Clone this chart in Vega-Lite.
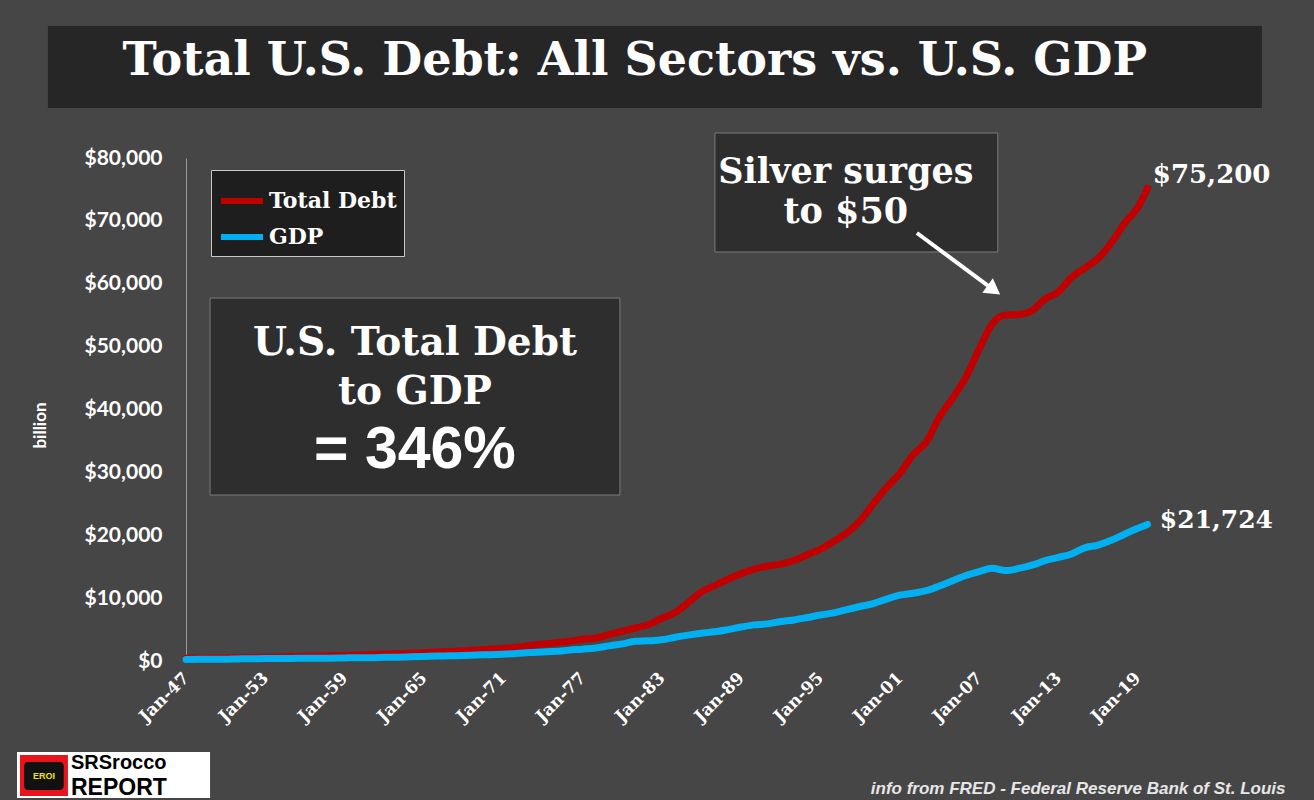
{
  "$schema": "https://vega.github.io/schema/vega-lite/v6.json",
  "width": 966,
  "height": 503,
  "autosize": "none",
  "padding": {"left": 186, "top": 158, "right": 162, "bottom": 139},
  "background": "#464646",
  "datasets": {
    "series": [
      {"date": "1947-01-01", "series": "Total Debt", "value": 420},
      {"date": "1948-01-01", "series": "Total Debt", "value": 440},
      {"date": "1949-01-01", "series": "Total Debt", "value": 460},
      {"date": "1950-01-01", "series": "Total Debt", "value": 490},
      {"date": "1951-01-01", "series": "Total Debt", "value": 530},
      {"date": "1952-01-01", "series": "Total Debt", "value": 570},
      {"date": "1953-01-01", "series": "Total Debt", "value": 610},
      {"date": "1954-01-01", "series": "Total Debt", "value": 650},
      {"date": "1955-01-01", "series": "Total Debt", "value": 700},
      {"date": "1956-01-01", "series": "Total Debt", "value": 750},
      {"date": "1957-01-01", "series": "Total Debt", "value": 790},
      {"date": "1958-01-01", "series": "Total Debt", "value": 830},
      {"date": "1959-01-01", "series": "Total Debt", "value": 890},
      {"date": "1960-01-01", "series": "Total Debt", "value": 950},
      {"date": "1961-01-01", "series": "Total Debt", "value": 1000},
      {"date": "1962-01-01", "series": "Total Debt", "value": 1070},
      {"date": "1963-01-01", "series": "Total Debt", "value": 1150},
      {"date": "1964-01-01", "series": "Total Debt", "value": 1240},
      {"date": "1965-01-01", "series": "Total Debt", "value": 1330},
      {"date": "1966-01-01", "series": "Total Debt", "value": 1430},
      {"date": "1967-01-01", "series": "Total Debt", "value": 1520},
      {"date": "1968-01-01", "series": "Total Debt", "value": 1640},
      {"date": "1969-01-01", "series": "Total Debt", "value": 1770},
      {"date": "1970-01-01", "series": "Total Debt", "value": 1880},
      {"date": "1971-01-01", "series": "Total Debt", "value": 2000},
      {"date": "1972-01-01", "series": "Total Debt", "value": 2200},
      {"date": "1973-01-01", "series": "Total Debt", "value": 2450},
      {"date": "1974-01-01", "series": "Total Debt", "value": 2700},
      {"date": "1975-01-01", "series": "Total Debt", "value": 2900},
      {"date": "1976-01-01", "series": "Total Debt", "value": 3150},
      {"date": "1977-01-01", "series": "Total Debt", "value": 3450},
      {"date": "1978-01-01", "series": "Total Debt", "value": 3650},
      {"date": "1979-01-01", "series": "Total Debt", "value": 4200},
      {"date": "1980-01-01", "series": "Total Debt", "value": 4750},
      {"date": "1981-01-01", "series": "Total Debt", "value": 5250},
      {"date": "1982-01-01", "series": "Total Debt", "value": 5800},
      {"date": "1983-01-01", "series": "Total Debt", "value": 6800},
      {"date": "1984-01-01", "series": "Total Debt", "value": 7700},
      {"date": "1985-01-01", "series": "Total Debt", "value": 9300},
      {"date": "1986-01-01", "series": "Total Debt", "value": 11000},
      {"date": "1987-01-01", "series": "Total Debt", "value": 12000},
      {"date": "1988-01-01", "series": "Total Debt", "value": 13000},
      {"date": "1989-01-01", "series": "Total Debt", "value": 13900},
      {"date": "1990-01-01", "series": "Total Debt", "value": 14600},
      {"date": "1991-01-01", "series": "Total Debt", "value": 15100},
      {"date": "1992-01-01", "series": "Total Debt", "value": 15400},
      {"date": "1993-01-01", "series": "Total Debt", "value": 16000},
      {"date": "1994-01-01", "series": "Total Debt", "value": 16900},
      {"date": "1995-01-01", "series": "Total Debt", "value": 17800},
      {"date": "1996-01-01", "series": "Total Debt", "value": 19000},
      {"date": "1997-01-01", "series": "Total Debt", "value": 20400},
      {"date": "1998-01-01", "series": "Total Debt", "value": 22300},
      {"date": "1999-01-01", "series": "Total Debt", "value": 25000},
      {"date": "2000-01-01", "series": "Total Debt", "value": 27600},
      {"date": "2001-01-01", "series": "Total Debt", "value": 29800},
      {"date": "2002-01-01", "series": "Total Debt", "value": 32800},
      {"date": "2003-01-01", "series": "Total Debt", "value": 34800},
      {"date": "2004-01-01", "series": "Total Debt", "value": 38800},
      {"date": "2005-01-01", "series": "Total Debt", "value": 41800},
      {"date": "2006-01-01", "series": "Total Debt", "value": 45100},
      {"date": "2007-01-01", "series": "Total Debt", "value": 49600},
      {"date": "2008-01-01", "series": "Total Debt", "value": 53600},
      {"date": "2008-10-01", "series": "Total Debt", "value": 54900},
      {"date": "2009-01-01", "series": "Total Debt", "value": 55000},
      {"date": "2010-01-01", "series": "Total Debt", "value": 55100},
      {"date": "2011-01-01", "series": "Total Debt", "value": 55700},
      {"date": "2012-01-01", "series": "Total Debt", "value": 57600},
      {"date": "2013-01-01", "series": "Total Debt", "value": 58700},
      {"date": "2014-01-01", "series": "Total Debt", "value": 61000},
      {"date": "2015-01-01", "series": "Total Debt", "value": 62500},
      {"date": "2016-01-01", "series": "Total Debt", "value": 64000},
      {"date": "2017-01-01", "series": "Total Debt", "value": 66500},
      {"date": "2018-01-01", "series": "Total Debt", "value": 69600},
      {"date": "2019-01-01", "series": "Total Debt", "value": 72100},
      {"date": "2019-10-01", "series": "Total Debt", "value": 75200},
      {"date": "1947-01-01", "series": "GDP", "value": 243},
      {"date": "1948-01-01", "series": "GDP", "value": 260},
      {"date": "1949-01-01", "series": "GDP", "value": 275},
      {"date": "1950-01-01", "series": "GDP", "value": 281},
      {"date": "1951-01-01", "series": "GDP", "value": 336},
      {"date": "1952-01-01", "series": "GDP", "value": 359},
      {"date": "1953-01-01", "series": "GDP", "value": 382},
      {"date": "1954-01-01", "series": "GDP", "value": 386},
      {"date": "1955-01-01", "series": "GDP", "value": 402},
      {"date": "1956-01-01", "series": "GDP", "value": 430},
      {"date": "1957-01-01", "series": "GDP", "value": 453},
      {"date": "1958-01-01", "series": "GDP", "value": 451},
      {"date": "1959-01-01", "series": "GDP", "value": 495},
      {"date": "1960-01-01", "series": "GDP", "value": 534},
      {"date": "1961-01-01", "series": "GDP", "value": 530},
      {"date": "1962-01-01", "series": "GDP", "value": 586},
      {"date": "1963-01-01", "series": "GDP", "value": 612},
      {"date": "1964-01-01", "series": "GDP", "value": 659},
      {"date": "1965-01-01", "series": "GDP", "value": 709},
      {"date": "1966-01-01", "series": "GDP", "value": 781},
      {"date": "1967-01-01", "series": "GDP", "value": 816},
      {"date": "1968-01-01", "series": "GDP", "value": 868},
      {"date": "1969-01-01", "series": "GDP", "value": 948},
      {"date": "1970-01-01", "series": "GDP", "value": 1012},
      {"date": "1971-01-01", "series": "GDP", "value": 1089},
      {"date": "1972-01-01", "series": "GDP", "value": 1191},
      {"date": "1973-01-01", "series": "GDP", "value": 1336},
      {"date": "1974-01-01", "series": "GDP", "value": 1432},
      {"date": "1975-01-01", "series": "GDP", "value": 1533},
      {"date": "1976-01-01", "series": "GDP", "value": 1729},
      {"date": "1977-01-01", "series": "GDP", "value": 1886},
      {"date": "1978-01-01", "series": "GDP", "value": 2059},
      {"date": "1979-01-01", "series": "GDP", "value": 2410},
      {"date": "1980-01-01", "series": "GDP", "value": 2726},
      {"date": "1981-01-01", "series": "GDP", "value": 3125},
      {"date": "1982-01-01", "series": "GDP", "value": 3207},
      {"date": "1983-01-01", "series": "GDP", "value": 3366},
      {"date": "1984-01-01", "series": "GDP", "value": 3770},
      {"date": "1985-01-01", "series": "GDP", "value": 4119},
      {"date": "1986-01-01", "series": "GDP", "value": 4416},
      {"date": "1987-01-01", "series": "GDP", "value": 4638},
      {"date": "1988-01-01", "series": "GDP", "value": 4997},
      {"date": "1989-01-01", "series": "GDP", "value": 5402},
      {"date": "1990-01-01", "series": "GDP", "value": 5748},
      {"date": "1991-01-01", "series": "GDP", "value": 5901},
      {"date": "1992-01-01", "series": "GDP", "value": 6271},
      {"date": "1993-01-01", "series": "GDP", "value": 6527},
      {"date": "1994-01-01", "series": "GDP", "value": 6911},
      {"date": "1995-01-01", "series": "GDP", "value": 7324},
      {"date": "1996-01-01", "series": "GDP", "value": 7647},
      {"date": "1997-01-01", "series": "GDP", "value": 8178},
      {"date": "1998-01-01", "series": "GDP", "value": 8665},
      {"date": "1999-01-01", "series": "GDP", "value": 9125},
      {"date": "2000-01-01", "series": "GDP", "value": 9849},
      {"date": "2001-01-01", "series": "GDP", "value": 10470},
      {"date": "2002-01-01", "series": "GDP", "value": 10783},
      {"date": "2003-01-01", "series": "GDP", "value": 11174},
      {"date": "2004-01-01", "series": "GDP", "value": 11923},
      {"date": "2005-01-01", "series": "GDP", "value": 12767},
      {"date": "2006-01-01", "series": "GDP", "value": 13599},
      {"date": "2007-01-01", "series": "GDP", "value": 14216},
      {"date": "2008-01-01", "series": "GDP", "value": 14752},
      {"date": "2009-01-01", "series": "GDP", "value": 14381},
      {"date": "2010-01-01", "series": "GDP", "value": 14722},
      {"date": "2011-01-01", "series": "GDP", "value": 15238},
      {"date": "2012-01-01", "series": "GDP", "value": 15973},
      {"date": "2013-01-01", "series": "GDP", "value": 16475},
      {"date": "2014-01-01", "series": "GDP", "value": 17031},
      {"date": "2015-01-01", "series": "GDP", "value": 17992},
      {"date": "2016-01-01", "series": "GDP", "value": 18436},
      {"date": "2017-01-01", "series": "GDP", "value": 19190},
      {"date": "2018-01-01", "series": "GDP", "value": 20164},
      {"date": "2019-01-01", "series": "GDP", "value": 21099},
      {"date": "2019-10-01", "series": "GDP", "value": 21724}
    ]
  },
  "layer": [
    {
      "data": {"values": [{}]},
      "mark": {"type": "rect", "fill": "#161616", "opacity": 0.65},
      "encoding": {
        "x": {"datum": {"year": 1936, "month": 7, "date": 22, "utc": true}, "type": "temporal"},
        "x2": {"datum": {"year": 2028, "month": 5, "date": 26, "utc": true}},
        "y": {"datum": 100990, "type": "quantitative"},
        "y2": {"datum": 87950}
      }
    },
    {
      "data": {"values": [{}]},
      "mark": {"type": "text", "text": "Total U.S. Debt: All Sectors vs. U.S. GDP", "font": "DejaVu Serif", "fontSize": 46, "fontWeight": "bold", "color": "white", "align": "center", "baseline": "middle"},
      "encoding": {
        "x": {"datum": {"year": 1980, "month": 12, "date": 15, "utc": true}, "type": "temporal"},
        "y": {"datum": 95430, "type": "quantitative"}
      }
    },
    {
      "data": {"values": [{}]},
      "mark": {"type": "rect", "fill": "#262626", "opacity": 0.75, "stroke": "#8c8c8c", "strokeWidth": 1},
      "encoding": {
        "x": {"datum": {"year": 1948, "month": 10, "date": 27, "utc": true}, "type": "temporal"},
        "x2": {"datum": {"year": 1979, "month": 10, "date": 31, "utc": true}},
        "y": {"datum": 57730, "type": "quantitative"},
        "y2": {"datum": 26400}
      }
    },
    {
      "data": {"values": [{}]},
      "mark": {"type": "rect", "fill": "#262626", "opacity": 0.75, "stroke": "#8c8c8c", "strokeWidth": 1},
      "encoding": {
        "x": {"datum": {"year": 1987, "month": 1, "date": 8, "utc": true}, "type": "temporal"},
        "x2": {"datum": {"year": 2008, "month": 6, "date": 2, "utc": true}},
        "y": {"datum": 83980, "type": "quantitative"},
        "y2": {"datum": 65050}
      }
    },
    {
      "transform": [{"filter": "datum.series == 'Total Debt'"}],
      "data": {"name": "series"},
      "mark": {"type": "line", "strokeWidth": 7, "interpolate": "monotone", "strokeCap": "round"},
      "encoding": {
        "x": {
          "field": "date",
          "type": "temporal",
          "scale": {
            "type": "utc",
            "domain": [
              {"year": 1947, "month": 1, "date": 1, "utc": true},
              {"year": 2020, "month": 2, "date": 1, "utc": true}
            ]
          },
          "axis": {
            "values": [
              {"year": 1947, "month": 1, "date": 1, "utc": true},
              {"year": 1953, "month": 1, "date": 1, "utc": true},
              {"year": 1959, "month": 1, "date": 1, "utc": true},
              {"year": 1965, "month": 1, "date": 1, "utc": true},
              {"year": 1971, "month": 1, "date": 1, "utc": true},
              {"year": 1977, "month": 1, "date": 1, "utc": true},
              {"year": 1983, "month": 1, "date": 1, "utc": true},
              {"year": 1989, "month": 1, "date": 1, "utc": true},
              {"year": 1995, "month": 1, "date": 1, "utc": true},
              {"year": 2001, "month": 1, "date": 1, "utc": true},
              {"year": 2007, "month": 1, "date": 1, "utc": true},
              {"year": 2013, "month": 1, "date": 1, "utc": true},
              {"year": 2019, "month": 1, "date": 1, "utc": true}
            ],
            "format": "%b-%y",
            "labelAngle": -45,
            "labelAlign": "right",
            "labelBaseline": "middle",
            "labelFont": "DejaVu Serif",
            "labelFontSize": 17,
            "labelFontWeight": "bold",
            "labelColor": "white",
            "labelPadding": 14,
            "labelOverlap": false,
            "labelFlush": false,
            "ticks": false,
            "domain": false,
            "grid": false,
            "title": "info from FRED - Federal Reserve Bank of St. Louis",
            "titleX": 1099,
            "titleY": 127,
            "titleAlign": "right",
            "titleBaseline": "middle",
            "titleFont": "Liberation Sans",
            "titleFontStyle": "italic",
            "titleFontWeight": "bold",
            "titleFontSize": 17,
            "titleColor": "#e6e6e6"
          }
        },
        "y": {
          "field": "value",
          "type": "quantitative",
          "scale": {"domain": [0, 80000], "nice": false},
          "axis": {
            "values": [0, 10000, 20000, 30000, 40000, 50000, 60000, 70000, 80000],
            "format": "$,.0f",
            "labelFont": "Lato",
            "labelFontSize": 21,
            "labelFontWeight": "bold",
            "labelColor": "white",
            "labelPadding": 24,
            "ticks": false,
            "domain": true,
            "domainColor": "#9a9a9a",
            "gridColor": "#b4b4b4",
            "gridOpacity": 0.55,
            "title": "billion",
            "titleX": -146,
            "titleY": 267,
            "titleAlign": "center",
            "titleBaseline": "middle",
            "titleFont": "Lato",
            "titleFontSize": 17,
            "titleFontWeight": "bold",
            "titleColor": "white"
          }
        },
        "color": {
          "field": "series",
          "type": "nominal",
          "scale": {"domain": ["Total Debt", "GDP"], "range": ["#c00000", "#00b0f0"]},
          "legend": {
            "orient": "none",
            "legendX": 25,
            "legendY": 12,
            "title": null,
            "fillColor": "#1e1e1e",
            "strokeColor": "#c8c8c8",
            "padding": 7,
            "symbolType": "stroke",
            "symbolStrokeWidth": 6,
            "symbolSize": 1764,
            "rowPadding": 0,
            "labelOffset": 3,
            "labelFont": "DejaVu Serif",
            "labelFontSize": 22,
            "labelFontWeight": "bold",
            "labelColor": "white"
          }
        }
      }
    },
    {
      "transform": [{"filter": "datum.series == 'GDP'"}],
      "data": {"name": "series"},
      "mark": {"type": "line", "strokeWidth": 7, "interpolate": "monotone", "strokeCap": "round"},
      "encoding": {
        "x": {"field": "date", "type": "temporal"},
        "y": {"field": "value", "type": "quantitative"},
        "color": {"field": "series", "type": "nominal"}
      }
    },
    {
      "data": {"values": [{}]},
      "mark": {"type": "text", "text": ["U.S. Total Debt", "to GDP"], "font": "DejaVu Serif", "fontSize": 39, "fontWeight": "bold", "color": "white", "align": "center", "baseline": "middle", "lineHeight": 49},
      "encoding": {
        "x": {"datum": {"year": 1964, "month": 4, "date": 27, "utc": true}, "type": "temporal"},
        "y": {"datum": 50580, "type": "quantitative"}
      }
    },
    {
      "data": {"values": [{}]},
      "mark": {"type": "text", "text": "= 346%", "font": "Liberation Sans", "fontSize": 59, "fontWeight": "bold", "color": "white", "align": "center", "baseline": "middle"},
      "encoding": {
        "x": {"datum": {"year": 1964, "month": 4, "date": 27, "utc": true}, "type": "temporal"},
        "y": {"datum": 33560, "type": "quantitative"}
      }
    },
    {
      "data": {"values": [{}]},
      "mark": {"type": "text", "text": ["Silver surges", "to $50"], "font": "DejaVu Serif", "fontSize": 35, "fontWeight": "bold", "color": "white", "align": "center", "baseline": "middle", "lineHeight": 40},
      "encoding": {
        "x": {"datum": {"year": 1996, "month": 12, "date": 1, "utc": true}, "type": "temporal"},
        "y": {"datum": 77770, "type": "quantitative"}
      }
    },
    {
      "data": {"values": [{}]},
      "mark": {"type": "rule", "color": "white", "strokeWidth": 4},
      "encoding": {
        "x": {"datum": {"year": 2002, "month": 4, "date": 20, "utc": true}, "type": "temporal"},
        "x2": {"datum": {"year": 2007, "month": 10, "date": 27, "utc": true}},
        "y": {"datum": 68070, "type": "quantitative"},
        "y2": {"datum": 59480}
      }
    },
    {
      "data": {"values": [{}]},
      "mark": {"type": "point", "shape": "triangle-right", "angle": 36, "size": 320, "filled": true, "color": "white", "opacity": 1},
      "encoding": {
        "x": {"datum": {"year": 2008, "month": 2, "date": 14, "utc": true}, "type": "temporal"},
        "y": {"datum": 59000, "type": "quantitative"}
      }
    },
    {
      "data": {"values": [{}]},
      "mark": {"type": "text", "text": "$75,200", "font": "DejaVu Serif", "fontSize": 26, "fontWeight": "bold", "color": "white", "align": "left", "baseline": "middle"},
      "encoding": {
        "x": {"datum": {"year": 2020, "month": 2, "date": 24, "utc": true}, "type": "temporal"},
        "y": {"datum": 77300, "type": "quantitative"}
      }
    },
    {
      "data": {"values": [{}]},
      "mark": {"type": "text", "text": "$21,724", "font": "DejaVu Serif", "fontSize": 25, "fontWeight": "bold", "color": "white", "align": "left", "baseline": "middle"},
      "encoding": {
        "x": {"datum": {"year": 2020, "month": 9, "date": 5, "utc": true}, "type": "temporal"},
        "y": {"datum": 22430, "type": "quantitative"}
      }
    },
    {
      "data": {"values": [{}]},
      "mark": {"type": "rect", "fill": "white"},
      "encoding": {
        "x": {"datum": {"year": 1934, "month": 3, "date": 20, "utc": true}, "type": "temporal"},
        "x2": {"datum": {"year": 1948, "month": 10, "date": 27, "utc": true}},
        "y": {"datum": -14470, "type": "quantitative"},
        "y2": {"datum": -21790}
      }
    },
    {
      "data": {"values": [{}]},
      "mark": {"type": "rect", "fill": "#e8141c"},
      "encoding": {
        "x": {"datum": {"year": 1934, "month": 6, "date": 10, "utc": true}, "type": "temporal"},
        "x2": {"datum": {"year": 1938, "month": 1, "date": 26, "utc": true}},
        "y": {"datum": -14950, "type": "quantitative"},
        "y2": {"datum": -21470}
      }
    },
    {
      "data": {"values": [{}]},
      "mark": {"type": "rect", "fill": "#111111", "cornerRadius": 4},
      "encoding": {
        "x": {"datum": {"year": 1934, "month": 10, "date": 1, "utc": true}, "type": "temporal"},
        "x2": {"datum": {"year": 1937, "month": 10, "date": 1, "utc": true}},
        "y": {"datum": -16060, "type": "quantitative"},
        "y2": {"datum": -20520}
      }
    },
    {
      "data": {"values": [{}]},
      "mark": {"type": "text", "text": "EROI", "font": "Liberation Sans", "fontSize": 9, "fontWeight": "bold", "color": "#f2e500", "align": "center", "baseline": "middle"},
      "encoding": {
        "x": {"datum": {"year": 1936, "month": 4, "date": 1, "utc": true}, "type": "temporal"},
        "y": {"datum": -18290, "type": "quantitative"}
      }
    },
    {
      "data": {"values": [{}]},
      "mark": {"type": "text", "text": "SRSrocco", "font": "Liberation Sans", "fontSize": 20, "fontWeight": "bold", "color": "black", "align": "left", "baseline": "middle"},
      "encoding": {
        "x": {"datum": {"year": 1938, "month": 4, "date": 20, "utc": true}, "type": "temporal"},
        "y": {"datum": -16150, "type": "quantitative"}
      }
    },
    {
      "data": {"values": [{}]},
      "mark": {"type": "text", "text": "REPORT", "font": "Liberation Sans", "fontSize": 23, "fontWeight": "bold", "color": "black", "align": "left", "baseline": "middle"},
      "encoding": {
        "x": {"datum": {"year": 1938, "month": 4, "date": 20, "utc": true}, "type": "temporal"},
        "y": {"datum": -20250, "type": "quantitative"}
      }
    }
  ],
  "config": {
    "view": {"stroke": null}
  }
}
